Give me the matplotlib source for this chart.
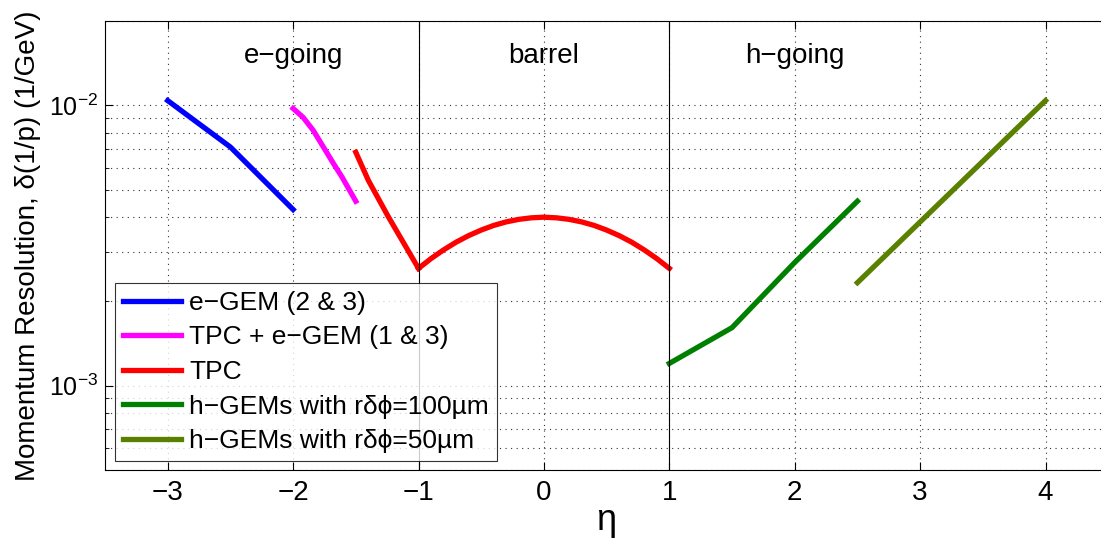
import matplotlib
matplotlib.use("Agg")
import matplotlib.pyplot as plt
from matplotlib.ticker import LogLocator, NullFormatter, FixedLocator

plt.rcParams['font.family'] = ['Liberation Sans', 'DejaVu Sans']
plt.rcParams['mathtext.fontset'] = 'custom'
plt.rcParams['mathtext.rm'] = 'Liberation Sans'
plt.rcParams['mathtext.it'] = 'Liberation Sans'

# ---- data ----
egem_eta = [-3.0, -2.5, -2.0]
egem_res = [1.04e-2, 7.1e-3, 4.25e-3]

tpc_egem_eta = [-2.0, -1.92, -1.84, -1.68, -1.61, -1.5]
tpc_egem_res = [9.75e-3, 9.06e-3, 8.15e-3, 6.22e-3, 5.55e-3, 4.55e-3]

tpc_fwd_eta = [-1.5, -1.4, -1.24, -1.0]
tpc_fwd_res = [6.8e-3, 5.4e-3, 4.0e-3, 2.62e-3]

tpc_eta = [-1.0, -0.9, -0.8, -0.7, -0.6, -0.5, -0.4, -0.3, -0.2, -0.1, 0.0,
           0.1, 0.2, 0.3, 0.4, 0.5, 0.6, 0.7, 0.8, 0.9, 1.0]
tpc_res = [2.62e-3, 2.84e-3, 3.05e-3, 3.25e-3, 3.43e-3, 3.59e-3, 3.73e-3,
           3.84e-3, 3.92e-3, 3.97e-3, 3.99e-3, 3.97e-3, 3.92e-3, 3.84e-3,
           3.73e-3, 3.59e-3, 3.43e-3, 3.25e-3, 3.05e-3, 2.84e-3, 2.62e-3]

hgem100_eta = [1.0, 1.5, 2.0, 2.5]
hgem100_res = [1.2e-3, 1.61e-3, 2.75e-3, 4.55e-3]

hgem50_eta = [2.5, 4.0]
hgem50_res = [2.33e-3, 1.04e-2]

region_labels = ['e\u2212going', 'barrel', 'h\u2212going']
region_pos = [-2.0, 0.0, 2.0]
region_bounds = [-1.0, 1.0]

legend_labels = ['e\u2212GEM (2 & 3)', 'TPC + e\u2212GEM (1 & 3)', 'TPC',
                 'h\u2212GEMs with r\u03b4\u03d5=100\u00b5m',
                 'h\u2212GEMs with r\u03b4\u03d5=50\u00b5m']
colors = ['#0000ff', '#ff00ff', '#ff0000', '#008000', '#5a8000']

fig = plt.figure(figsize=(11.01, 5.43), dpi=100)
ax = fig.add_axes([105/1101, 73/543, 8*125.4/1101, 449/543])

lw = 3.8
h1, = ax.plot(egem_eta, egem_res, color=colors[0], lw=lw)
h2, = ax.plot(tpc_egem_eta, tpc_egem_res, color=colors[1], lw=lw)
h3, = ax.plot(tpc_fwd_eta, tpc_fwd_res, color=colors[2], lw=lw)
ax.plot(tpc_eta, tpc_res, color=colors[2], lw=lw)
h4, = ax.plot(hgem100_eta, hgem100_res, color=colors[3], lw=lw)
h5, = ax.plot(hgem50_eta, hgem50_res, color=colors[4], lw=lw)

ax.set_yscale('log')
ax.set_xlim(-3.5, 4.5)
ax.set_ylim(5e-4, 2e-2)
ax.xaxis.set_major_locator(FixedLocator([-3, -2, -1, 0, 1, 2, 3, 4]))
ax.set_xticklabels(['\u22123', '\u22122', '\u22121', '0', '1', '2', '3', '4'])
ax.yaxis.set_major_locator(LogLocator(base=10, numticks=10))
ax.yaxis.set_minor_locator(LogLocator(base=10, subs=range(2, 10), numticks=20))
ax.yaxis.set_minor_formatter(NullFormatter())

for xb in region_bounds:
    ax.axvline(xb, color='black', lw=0.8)
for lab, xp in zip(region_labels, region_pos):
    ax.text(xp, 1.5e-2, lab, ha='center', va='center', fontsize=20)

ax.grid(True, which='major', axis='both', linestyle=(0, (1, 4)), color='0.2', lw=0.8)
ax.grid(True, which='minor', axis='y', linestyle=(0, (1, 4)), color='0.2', lw=0.8)

ax.tick_params(which='both', direction='in', top=True, right=True)
ax.tick_params(axis='x', labelsize=20, pad=7)
ax.tick_params(axis='y', labelsize=18, pad=5)
ax.tick_params(which='major', length=6)
ax.tick_params(which='minor', length=3)

ax.set_xlabel('\u03b7', fontsize=26, labelpad=-2)
ax.set_ylabel('Momentum Resolution, \u03b4(1/p) (1/GeV)', fontsize=20, labelpad=6)

leg = ax.legend([h1, h2, h3, h4, h5], legend_labels, loc='lower left',
                bbox_to_anchor=(10/1003, 9/449), fontsize=19, frameon=True,
                fancybox=False, edgecolor='black', handlelength=2.2,
                borderpad=0.3, labelspacing=0.4, handletextpad=0.3,
                borderaxespad=0)
leg.get_frame().set_linewidth(0.8)

fig.savefig('out.png', dpi=100)
